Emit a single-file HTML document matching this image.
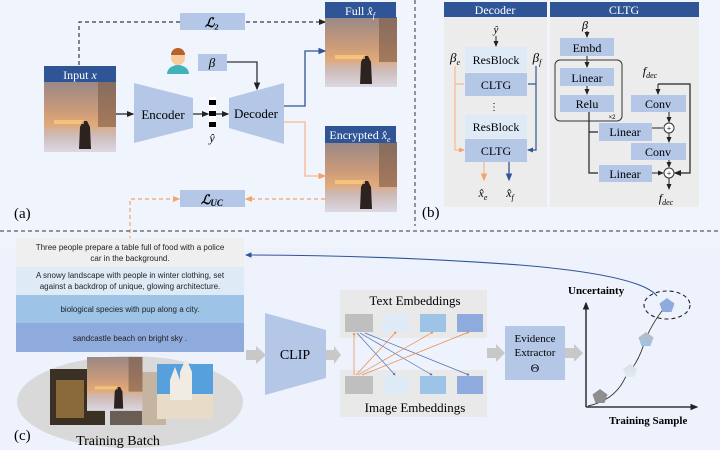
<!DOCTYPE html>
<html><head><meta charset="utf-8"><style>
body{margin:0;background:#f0f4fd;}
svg{display:block;font-family:"Liberation Serif",serif;}
.s{font-family:"Liberation Sans",sans-serif;}
</style></head><body>
<svg width="720" height="450" viewBox="0 0 720 450" xmlns="http://www.w3.org/2000/svg">
<defs>
<marker id="ak" markerWidth="6" markerHeight="6" refX="5" refY="3" orient="auto"><path d="M0,0.5 L6,3 L0,5.5z" fill="#222"/></marker>
<marker id="ab" markerWidth="6" markerHeight="6" refX="5" refY="3" orient="auto"><path d="M0,0.5 L6,3 L0,5.5z" fill="#2f5597"/></marker>
<marker id="ao" markerWidth="6" markerHeight="6" refX="5" refY="3" orient="auto"><path d="M0,0.5 L6,3 L0,5.5z" fill="#f4a46a"/></marker>
<marker id="as" markerWidth="4" markerHeight="4" refX="3" refY="2" orient="auto"><path d="M0,0 L4,2 L0,4z" fill="#4a6fb5"/></marker>
<marker id="aso" markerWidth="4" markerHeight="4" refX="3" refY="2" orient="auto"><path d="M0,0 L4,2 L0,4z" fill="#e8894a"/></marker>
<linearGradient id="img" x1="0" y1="0" x2="0" y2="1">
<stop offset="0" stop-color="#9a8886"/><stop offset="0.4" stop-color="#c99a7a"/><stop offset="0.6" stop-color="#e0a878"/><stop offset="0.75" stop-color="#cdbab6"/><stop offset="1" stop-color="#dcd8e2"/></linearGradient>
<linearGradient id="pg" x1="0" y1="0" x2="0" y2="1"><stop offset="0" stop-color="#bbb"/><stop offset="1" stop-color="#9dc3e6"/></linearGradient>
<linearGradient id="pl" x1="0" y1="0" x2="0" y2="1"><stop offset="0" stop-color="#ddd"/><stop offset="1" stop-color="#deebf7"/></linearGradient>
<g id="pic">
<rect width="72" height="70" fill="url(#img)"/>
<rect x="54" y="0" width="18" height="45" fill="#7a5a48" opacity="0.6"/>
<path d="M36,45 l3,-6 l4,0 l3,6 l1,22 l-12,0z" fill="#2c2220"/>
<rect x="10" y="38" width="30" height="4" fill="#ffce7a" opacity="0.7"/>
</g>
</defs>
<rect x="0" y="248" width="720" height="202" fill="#eef2fc"/>
<!-- (a) -->
<path d="M79,65 V22 H325" fill="none" stroke="#333a50" stroke-width="1.2" stroke-dasharray="4,3" marker-end="url(#ak)"/>
<rect x="180" y="13" width="65" height="17" fill="#b4c7e7"/>
<text x="212" y="27" font-size="13" text-anchor="middle" font-style="italic" font-weight="bold">ℒ₂</text>
<g transform="translate(44,82)"><use href="#pic"/></g>
<rect x="44" y="66" width="72" height="16" fill="#2f5597"/>
<text x="80" y="79" font-size="12" fill="#fff" text-anchor="middle">Input <tspan font-style="italic">x</tspan></text>
<g transform="translate(325,17)"><use href="#pic"/></g>
<rect x="325" y="2" width="71" height="16" fill="#2f5597"/>
<text x="360" y="15" font-size="12" fill="#fff" text-anchor="middle">Full <tspan font-style="italic">x̂<tspan font-size="8" dy="3">f</tspan></tspan></text>
<g transform="translate(325,142)"><use href="#pic"/></g>
<rect x="325" y="126" width="71" height="17" fill="#2f5597"/>
<text x="360" y="139" font-size="12" fill="#fff" text-anchor="middle">Encrypted <tspan font-style="italic">x̂<tspan font-size="8" dy="3">e</tspan></tspan></text>
<circle cx="178" cy="58" r="7" fill="#f9c9a0"/><path d="M171,55 a7,7 0 0 1 14,0 z" fill="#b8622a"/>
<path d="M167,74 a11,9 0 0 1 22,0z" fill="#3fb3b8"/>
<rect x="198" y="54" width="29" height="17" fill="#b4c7e7"/>
<text x="212" y="67" font-size="13" text-anchor="middle" font-style="italic">β</text>
<path d="M227,62 H257 V89" fill="none" stroke="#333" stroke-width="1.3" marker-end="url(#ak)"/>
<path d="M134,83 L193,98 L193,128 L134,143z" fill="#b4c7e7"/>
<text x="163" y="119" font-size="13" text-anchor="middle">Encoder</text>
<path d="M229,98 L284,83 L284,144 L229,128z" fill="#b4c7e7"/>
<text x="256" y="118" font-size="13" text-anchor="middle">Decoder</text>
<rect x="209" y="97" width="7" height="31" fill="#fff"/>
<rect x="209" y="100" width="7" height="5" fill="#000"/><rect x="209" y="111" width="7" height="5" fill="#000"/><rect x="209" y="122" width="7" height="5" fill="#000"/>
<text x="212" y="142" font-size="12" text-anchor="middle" font-style="italic">ŷ</text>
<path d="M116,114 H133" stroke="#222" stroke-width="1.2" marker-end="url(#ak)"/>
<path d="M193,114 H208" stroke="#222" stroke-width="1.2" marker-end="url(#ak)"/>
<path d="M216,114 H228" stroke="#222" stroke-width="1.2" marker-end="url(#ak)"/>
<path d="M284,106 H305 V51 H325" fill="none" stroke="#2f5597" stroke-width="1.3" marker-end="url(#ab)"/>
<path d="M284,122 H305 V176 H325" fill="none" stroke="#f8b890" stroke-width="1.3" marker-end="url(#ao)"/>
<rect x="180" y="190" width="65" height="17" fill="#b4c7e7"/>
<text x="212" y="204" font-size="13" text-anchor="middle" font-style="italic" font-weight="bold">ℒ<tspan font-size="9" dy="2">UC</tspan></text>
<path d="M325,199 H246" stroke="#f4a46a" stroke-width="1.2" stroke-dasharray="4,3" marker-end="url(#ao)"/>
<path d="M130,240 V199 H179" fill="none" stroke="#f4a46a" stroke-width="1.2" stroke-dasharray="4,3" marker-end="url(#ao)"/>
<text x="14" y="218" font-size="15">(a)</text>
<path d="M415,0 V226" stroke="#333" stroke-width="1" stroke-dasharray="4,3"/>
<path d="M0,231 H720" stroke="#333" stroke-width="1" stroke-dasharray="4,3"/>
<!-- (b) -->
<rect x="444" y="2" width="103" height="205" fill="#ececec"/>
<rect x="444" y="2" width="103" height="15" fill="#2f5597"/>
<text x="495" y="14" font-size="12" fill="#fff" text-anchor="middle">Decoder</text>
<rect x="550" y="2" width="149" height="205" fill="#ececec"/>
<rect x="550" y="2" width="149" height="15" fill="#2f5597"/>
<text x="624" y="14" font-size="12" fill="#fff" text-anchor="middle">CLTG</text>
<text x="496" y="33" font-size="11" text-anchor="middle" font-style="italic">ŷ</text>
<path d="M496,36 V46" stroke="#222" marker-end="url(#ak)"/>
<rect x="465" y="47" width="62" height="25" fill="#deebf7"/><text x="496" y="64" font-size="12" text-anchor="middle">ResBlock</text>
<rect x="465" y="73" width="62" height="23" fill="#b4c7e7"/><text x="496" y="89" font-size="12" text-anchor="middle">CLTG</text>
<text x="494" y="110" font-size="10" text-anchor="middle">⋮</text>
<rect x="465" y="115" width="62" height="23" fill="#deebf7"/><text x="496" y="131" font-size="12" text-anchor="middle">ResBlock</text>
<rect x="465" y="139" width="62" height="23" fill="#b4c7e7"/><text x="496" y="155" font-size="12" text-anchor="middle">CLTG</text>
<text x="455" y="62" font-size="13" text-anchor="middle" font-style="italic">β<tspan font-size="8" dy="3">e</tspan></text>
<text x="537" y="62" font-size="13" text-anchor="middle" font-style="italic">β<tspan font-size="8" dy="3">f</tspan></text>
<path d="M455,66 V150 H464 M455,84 H464" fill="none" stroke="#f8b890" stroke-width="1.2"/>
<path d="M459,84 H464 M459,150 H464" stroke="#f8b890" marker-end="url(#ao)"/>
<path d="M536,66 V150 H528 M536,84 H528" fill="none" stroke="#2f5597" stroke-width="1.2"/>
<path d="M532,84 H528 M532,150 H528" stroke="#2f5597" marker-end="url(#ab)"/>
<path d="M484,162 V180" stroke="#f8b890" stroke-width="1.3" marker-end="url(#ao)"/>
<path d="M509,162 V180" stroke="#2f5597" stroke-width="1.3" marker-end="url(#ab)"/>
<text x="483" y="197" font-size="12" text-anchor="middle" font-style="italic">x̂<tspan font-size="8" dy="3">e</tspan></text>
<text x="510" y="197" font-size="12" text-anchor="middle" font-style="italic">x̂<tspan font-size="8" dy="3">f</tspan></text>
<text x="422" y="217" font-size="15">(b)</text>
<text x="585" y="29" font-size="12" text-anchor="middle" font-style="italic">β</text>
<path d="M587,31 V37" stroke="#222" marker-end="url(#ak)"/>
<rect x="560" y="38" width="54" height="18" fill="#b4c7e7"/><text x="587" y="52" font-size="12" text-anchor="middle">Embd</text>
<rect x="555" y="60" width="67" height="61" rx="5" fill="none" stroke="#333" stroke-width="1"/>
<path d="M587,56 V67" stroke="#222" marker-end="url(#ak)"/>
<rect x="560" y="68" width="54" height="18" fill="#b4c7e7"/><text x="587" y="82" font-size="12" text-anchor="middle">Linear</text>
<path d="M587,86 V94" stroke="#222" marker-end="url(#ak)"/>
<rect x="560" y="95" width="54" height="17" fill="#b4c7e7"/><text x="587" y="108" font-size="12" text-anchor="middle">Relu</text>
<text x="612" y="119" font-size="6" text-anchor="middle" class="s">×2</text>
<path d="M589,112 V173 H598 M589,132 H598" fill="none" stroke="#222" stroke-width="1.2"/>
<rect x="599" y="123" width="53" height="18" fill="#b4c7e7"/><text x="625" y="136" font-size="12" text-anchor="middle">Linear</text>
<rect x="599" y="165" width="53" height="17" fill="#b4c7e7"/><text x="625" y="178" font-size="12" text-anchor="middle">Linear</text>
<text x="650" y="75" font-size="12" text-anchor="middle" font-style="italic">f<tspan font-size="8" dy="3">dec</tspan></text>
<path d="M658,84 V94" stroke="#222" marker-end="url(#ak)"/>
<path d="M658,84 H690 V173 H675" fill="none" stroke="#222" stroke-width="1.2" marker-end="url(#ak)"/>
<rect x="631" y="95" width="55" height="17" fill="#b4c7e7"/><text x="658" y="108" font-size="12" text-anchor="middle">Conv</text>
<path d="M669,112 V122" stroke="#222" marker-end="url(#ak)"/>
<path d="M652,128 H663 M652,173 H663" stroke="#222" marker-end="url(#ak)"/>
<circle cx="669" cy="128" r="5" fill="#fff" stroke="#333"/><text x="669" y="131" font-size="8" text-anchor="middle">+</text>
<path d="M669,133 V142" stroke="#222" marker-end="url(#ak)"/>
<rect x="631" y="143" width="55" height="17" fill="#b4c7e7"/><text x="658" y="156" font-size="12" text-anchor="middle">Conv</text>
<path d="M669,160 V167" stroke="#222" marker-end="url(#ak)"/>
<circle cx="669" cy="173" r="5" fill="#fff" stroke="#333"/><text x="669" y="176" font-size="8" text-anchor="middle">+</text>
<path d="M669,178 V189" stroke="#222" marker-end="url(#ak)"/>
<text x="666" y="202" font-size="12" text-anchor="middle" font-style="italic">f<tspan font-size="8" dy="3">dec</tspan></text>
<!-- (c) -->
<rect x="16" y="238" width="228" height="29" fill="#efefef"/>
<rect x="16" y="267" width="228" height="28" fill="#deebf7"/>
<rect x="16" y="295" width="228" height="28" fill="#9dc3e6"/>
<rect x="16" y="323" width="228" height="29" fill="#8faadc"/>
<g class="s" font-size="8" fill="#222" text-anchor="middle">
<text x="130" y="250">Three people prepare a table full of food with a police</text>
<text x="130" y="261">car in the background.</text>
<text x="130" y="278">A snowy landscape with people in winter clothing, set</text>
<text x="130" y="289">against a backdrop of unique, glowing architecture.</text>
<text x="130" y="312">biological species with pup along a city.</text>
<text x="130" y="341">sandcastle beach on bright sky .</text>
</g>
<ellipse cx="130" cy="402" rx="113" ry="46" fill="#d9d9d9"/>
<rect x="50" y="369" width="55" height="56" fill="#3a3024"/>
<rect x="56" y="380" width="28" height="38" fill="#8a6a3a"/>
<rect x="110" y="372" width="56" height="53" fill="#6a5e54"/>
<rect x="142" y="372" width="24" height="53" fill="#c4b4a0"/>
<rect x="157" y="364" width="56" height="30" fill="#56a0de"/>
<rect x="157" y="394" width="56" height="25" fill="#e8dcc8"/>
<path d="M170,400 V380 L175,367 L180,380 V372 L186,358 L192,372 V400z" fill="#f0ece4"/>
<g transform="translate(87,357) scale(0.77,0.77)"><use href="#pic"/></g>
<text x="118" y="445" font-size="14" text-anchor="middle">Training Batch</text>
<text x="14" y="440" font-size="15">(c)</text>
<path d="M246,350 H256 V346 L266,355 L256,364 V360 H246z" fill="#c8c8c8"/>
<path d="M265,313 L326,330 L326,378 L265,395z" fill="#b4c7e7"/>
<text x="295" y="359" font-size="14" text-anchor="middle">CLIP</text>
<path d="M326,350 H334 V346 L341,355 L334,364 V360 H326z" fill="#c8c8c8"/>
<rect x="340" y="290" width="147" height="48" fill="#e9e9e9"/>
<rect x="340" y="370" width="147" height="47" fill="#e9e9e9"/>
<text x="415" y="305" font-size="13" text-anchor="middle">Text Embeddings</text>
<text x="415" y="412" font-size="13" text-anchor="middle">Image Embeddings</text>
<rect x="345" y="314" width="28" height="18" fill="#bfbfbf"/><rect x="383" y="314" width="26" height="18" fill="#deebf7"/><rect x="420" y="314" width="26" height="18" fill="#9dc3e6"/><rect x="457" y="314" width="26" height="18" fill="#8faadc"/>
<rect x="345" y="376" width="28" height="18" fill="#bfbfbf"/><rect x="383" y="376" width="26" height="18" fill="#deebf7"/><rect x="420" y="376" width="26" height="18" fill="#9dc3e6"/><rect x="457" y="376" width="26" height="18" fill="#8faadc"/>
<g stroke="#4a6fb5" stroke-width="0.7" fill="none">
<path d="M357,333 L395,375" marker-end="url(#as)"/><path d="M360,333 L432,375" marker-end="url(#as)"/><path d="M365,333 L469,375" marker-end="url(#as)"/>
</g>
<g stroke="#e8894a" stroke-width="0.7" fill="none">
<path d="M354,375 V333" marker-end="url(#aso)"/><path d="M356,375 L396,332" marker-end="url(#aso)"/><path d="M358,375 L433,332" marker-end="url(#aso)"/><path d="M362,375 L469,332" marker-end="url(#aso)"/>
</g>
<path d="M487,348 H496 V344 L505,353 L496,362 V358 H487z" fill="#c8c8c8"/>
<rect x="505" y="326" width="60" height="54" fill="#b4c7e7"/>
<text x="535" y="342" font-size="11" text-anchor="middle">Evidence</text>
<text x="535" y="356" font-size="11" text-anchor="middle">Extractor</text>
<text x="535" y="372" font-size="12" text-anchor="middle">Θ</text>
<path d="M565,348 H574 V344 L583,353 L574,362 V358 H565z" fill="#c8c8c8"/>
<path d="M586,407 V303" stroke="#111" stroke-width="1.3" marker-end="url(#ak)"/>
<path d="M586,407 H697" stroke="#111" stroke-width="1.3" marker-end="url(#ak)"/>
<text x="568" y="294" font-size="11" font-weight="bold">Uncertainty</text>
<text x="609" y="424" font-size="11" font-weight="bold">Training Sample</text>
<path d="M588,406 Q615,400 625,378 Q640,360 645,340 Q655,318 667,305" fill="none" stroke="#333" stroke-width="0.9"/>
<path d="M600,389 l7.5,5.5 l-3,8.5 h-9 l-3,-8.5z" fill="#8e8e8e"/>
<path d="M630,364 l7,5 l-3,8 h-8 l-3,-8z" fill="url(#pl)"/>
<path d="M646,332 l7.5,5.5 l-3,8.5 h-9 l-3,-8.5z" fill="url(#pg)"/>
<path d="M667,298 l7.5,5.5 l-3,8.5 h-9 l-3,-8.5z" fill="#8faadc"/>
<ellipse cx="667" cy="305" rx="23" ry="14" fill="none" stroke="#222" stroke-width="1.1" stroke-dasharray="4,3"/>
<path d="M657,296 Q640,275 520,265 Q380,255 246,255" fill="none" stroke="#2f5597" stroke-width="1.1" marker-end="url(#ab)"/>
</svg>
</body></html>
